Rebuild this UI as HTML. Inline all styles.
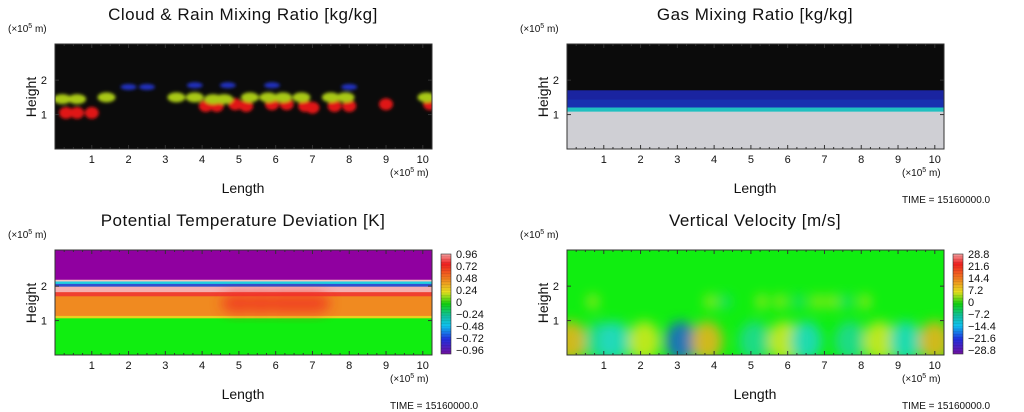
<!DOCTYPE html>
<html><head><meta charset="utf-8"><style>
html,body{margin:0;padding:0;background:#fff;width:1024px;height:412px;overflow:hidden}
svg text{font-family:"Liberation Sans",sans-serif;fill:#111}
</style></head><body>
<svg id="root" width="1024" height="412" viewBox="0 0 1024 412">
<defs>
<filter id="blur2" x="-50%" y="-50%" width="200%" height="200%"><feGaussianBlur stdDeviation="1.6"/></filter>
<filter id="blur5" x="-50%" y="-50%" width="200%" height="200%"><feGaussianBlur stdDeviation="6"/></filter>
<linearGradient id="cbTemp" x1="0" y1="0" x2="0" y2="1">
<stop offset="0" stop-color="#f4a0a0"/><stop offset="0.1" stop-color="#f02020"/><stop offset="0.25" stop-color="#f08020"/><stop offset="0.38" stop-color="#e8e020"/><stop offset="0.5" stop-color="#10d010"/><stop offset="0.62" stop-color="#10c0a0"/><stop offset="0.72" stop-color="#10c0f0"/><stop offset="0.85" stop-color="#2030e0"/><stop offset="1" stop-color="#7010a0"/>
</linearGradient>
</defs>
</svg>
<script>
const NS='http://www.w3.org/2000/svg';
const root=document.getElementById('root');
const xTicks=[1,2,3,4,5,6,7,8,9,10];
const yTicks=[1,2];
const X_MAX=10.25, Y_MAX=3.05;
const tempBandTops=[1.08,1.15,1.72,1.84,2.0,2.08,2.15,2.2,3.05];
const tempBandColors=['#10ee10','#e8d020','#f08a20','#f04030','#f4b0b0','#3050d0','#20d0e0','#f4c0c0','#9000a0'];
const gasBandTops=[1.1,1.22,1.45,1.72,3.05];
const gasBandColors=['#cfcfd4','#20c0c0','#1830b0','#1a24a0','#0b0b0b'];
const rainX=[0.6,1.0,4.1,4.4,4.9,5.2,5.9,6.3,6.8,7.0,7.6,8.0,9.0,10.2,0.3];
const rainH=[1.05,1.05,1.25,1.25,1.3,1.25,1.3,1.3,1.25,1.2,1.25,1.25,1.3,1.3,1.05];
const cloudX=[0.2,0.6,1.4,3.3,3.8,4.3,4.6,5.3,5.8,6.2,6.7,7.5,7.9,10.1];
const cloudH=[1.45,1.45,1.5,1.5,1.5,1.45,1.45,1.5,1.5,1.5,1.5,1.5,1.5,1.5];
const iceX=[2.0,2.5,3.8,4.7,5.9,8.0];
const iceH=[1.8,1.8,1.85,1.85,1.85,1.8];
const wX=[0.1,0.9,1.3,2.1,3.1,3.8,5.1,5.9,6.5,7.7,8.5,9.2,10.0];
const wVal=[16,-8,-10,11,-22,14,-6,10,-10,-6,9,-14,18];
const wSmallX=[0.7,3.9,4.3,5.3,5.8,6.3,6.8,7.2,7.6,8.1];
const wSmallVal=[6,6,-5,8,7,-6,9,7,-5,6];
const tempLabels=['0.96','0.72','0.48','0.24','0','\u22120.24','\u22120.48','\u22120.72','\u22120.96'];
const wLabels=['28.8','21.6','14.4','7.2','0','\u22127.2','\u221214.4','\u221221.6','\u221228.8'];

function el(tag,attrs,parent){const e=document.createElementNS(NS,tag);for(const k in attrs)e.setAttribute(k,attrs[k]);(parent||root).appendChild(e);return e;}
function txt(s,attrs,parent){const t=el('text',attrs,parent);t.textContent=s;return t;}
function wColor(v){if(v>=14)return '#f0b020';if(v>=5)return '#d8e820';if(v>0)return '#b0e820';if(v<=-18)return '#2060d0';if(v<=-9)return '#20d8c8';return '#20d898';}

function panel(ox,oy,title,name,timeShown){
  const g=el('g',{transform:`translate(${ox},${oy})`});
  
  
  const L=55,R=432,T=44,B=149;
  const sx=v=>L+v/X_MAX*(R-L), sy=v=>B-v/Y_MAX*(B-T);
  const t=txt(title,{x:243,y:20,'text-anchor':'middle','font-size':17,'letter-spacing':'0.5'},g);
  
  const u=txt('(\u00d710',{x:8,y:32,'font-size':10},g);
  
  const ts=el('tspan',{'font-size':7,dy:-4},u);ts.textContent='5';
  const ts2=el('tspan',{dy:4},u);ts2.textContent=' m)';
  const yt=txt('Height',{x:0,y:0,'font-size':14,'text-anchor':'middle',transform:`translate(36,97) rotate(-90)`},g);
  
  const xt=txt('Length',{x:243,y:193,'font-size':14,'text-anchor':'middle'},g);
  
  const xu=txt('(\u00d710',{x:390,y:176,'font-size':10},g);
  
  const a=el('tspan',{'font-size':7,dy:-4},xu);a.textContent='5';
  const b=el('tspan',{dy:4},xu);b.textContent=' m)';
  if(timeShown){const tm=txt('TIME = 15160000.0',{x:390,y:203,'font-size':10,fill:'#555'},g);
    }
  const plot=el('g',{},g);
  
  const clip='clip'+name;
  const cp=el('clipPath',{id:clip},g);el('rect',{x:L,y:T,width:R-L,height:B-T},cp);
  plot.setAttribute('clip-path',`url(#${clip})`);
  return {g,plot,sx,sy,L,R,T,B,
    finish(){
      const fr=el('rect',{x:L,y:T,width:R-L,height:B-T,fill:'none',stroke:'#333','stroke-width':1},g);
      
      for(let v=0.25;v<X_MAX;v+=0.25){const x=sx(v),len=(Math.abs(v-Math.round(v))<1e-6)?4:2;
        el('line',{x1:x,x2:x,y1:B,y2:B-len,stroke:'#333'},g);el('line',{x1:x,x2:x,y1:T,y2:T+len,stroke:'#333'},g);}
      xTicks.forEach(v=>{const l=txt(String(v),{x:sx(v),y:163,'font-size':11,'text-anchor':'middle'},g);
        });
      yTicks.forEach(v=>{const l=txt(String(v),{x:47,y:sy(v)+4,'font-size':11,'text-anchor':'end'},g);
        
        el('line',{x1:L,x2:L+4,y1:sy(v),y2:sy(v),stroke:'#333'},g);el('line',{x1:R,x2:R-4,y1:sy(v),y2:sy(v),stroke:'#333'},g);});
    }};
}
function bands(p,tops,colors,name){
  let prev=0;
  tops.forEach((top,i)=>{const r=el('rect',{x:p.L,y:p.sy(top),width:p.R-p.L,height:p.sy(prev)-p.sy(top)+0.5,fill:colors[i]},p.plot);
    prev=top;});
}
function colorbar(p,labels,grad,name){
  const cb=el('g',{},p.g);
  
  el('rect',{x:441,y:48,width:10,height:100,fill:`url(#${grad})`,stroke:'#333','stroke-width':0.6},cb);
  for(let i=1;i<36;i++)el('line',{x1:441,x2:451,y1:48+i*100/36,y2:48+i*100/36,stroke:'rgba(0,0,0,0.15)','stroke-width':0.5},cb);
  labels.forEach((s,i)=>{const l=txt(s,{x:456,y:52+i*12,'font-size':11},cb);
    });
}

const p1=panel(0,0,'Cloud & Rain Mixing Ratio [kg/kg]','cloud-rain',false);
el('rect',{x:p1.L,y:p1.T,width:p1.R-p1.L,height:p1.B-p1.T,fill:'#0b0b0b'},p1.plot);
const blobs=el('g',{filter:'url(#blur2)'},p1.plot);
rainX.forEach((x,i)=>{const e=el('ellipse',{cx:p1.sx(x),cy:p1.sy(rainH[i]),rx:7,ry:6,fill:'#e01818'},blobs);
  });
cloudX.forEach((x,i)=>{const e=el('ellipse',{cx:p1.sx(x),cy:p1.sy(cloudH[i]),rx:9,ry:5,fill:'#a8c818'},blobs);
  });
iceX.forEach((x,i)=>{const e=el('ellipse',{cx:p1.sx(x),cy:p1.sy(iceH[i]),rx:8,ry:3,fill:'#2030c0'},blobs);
  });
p1.finish();

const p2=panel(512,0,'Gas Mixing Ratio [kg/kg]','gas',true);
bands(p2,gasBandTops,gasBandColors,'gas');
p2.finish();

const p3=panel(0,206,'Potential Temperature Deviation [K]','temperature',true);
bands(p3,tempBandTops,tempBandColors,'temperature');
const hot=el('g',{filter:'url(#blur5)',opacity:0.7},p3.plot);
[5.0,5.6,6.2,6.6,7.0].forEach(x=>el('ellipse',{cx:p3.sx(x),cy:p3.sy(1.5),rx:18,ry:10,fill:'#f02a20'},hot));
p3.finish();
colorbar(p3,tempLabels,'cbTemp','temperature-colorbar');

const p4=panel(512,206,'Vertical Velocity [m/s]','vertical-velocity',true);
el('rect',{x:p4.L,y:p4.T,width:p4.R-p4.L,height:p4.B-p4.T,fill:'#10ee10'},p4.plot);
const cells=el('g',{filter:'url(#blur5)'},p4.plot);
wX.forEach((x,i)=>{const e=el('ellipse',{cx:p4.sx(x),cy:p4.sy(0.4),rx:16,ry:20,fill:wColor(wVal[i]),opacity:0.85},cells);
  });
wSmallX.forEach((x,i)=>{const e=el('ellipse',{cx:p4.sx(x),cy:p4.sy(1.55),rx:5,ry:7,fill:wColor(wSmallVal[i]),opacity:0.8},cells);
  });
p4.finish();
colorbar(p4,wLabels,'cbTemp','velocity-colorbar');
</script>
</body></html>
